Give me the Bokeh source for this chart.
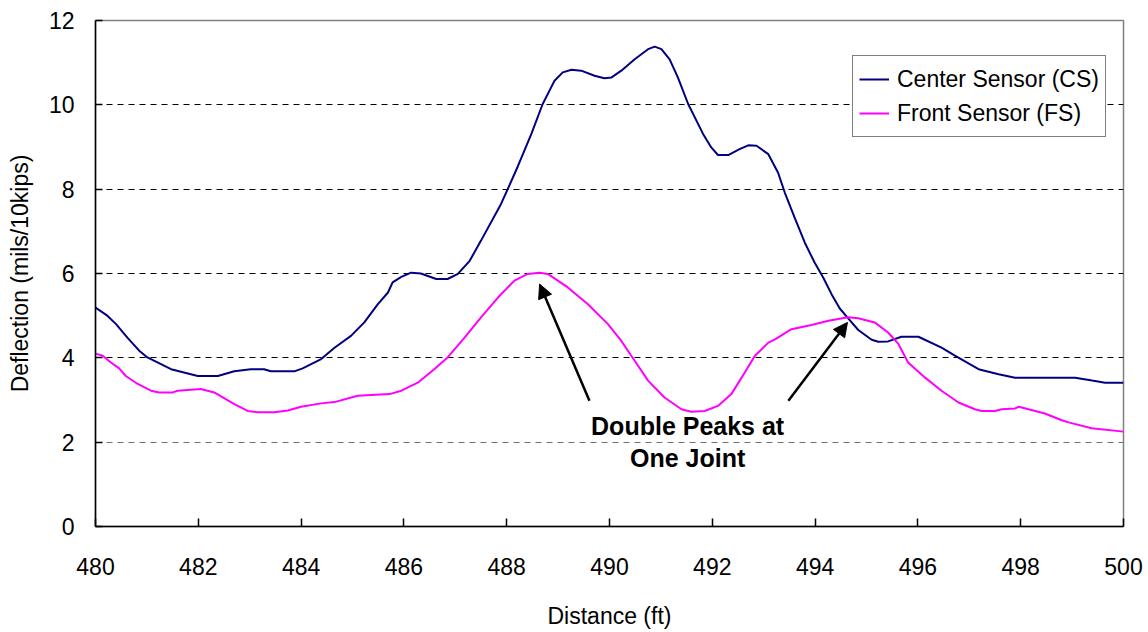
from bokeh.plotting import figure
from bokeh.models import (Range1d, FixedTicker, Legend, LegendItem, Arrow,
                          NormalHead, Label, Grid)
from bokeh.embed import file_html
from bokeh.resources import INLINE

# ---------------- data ----------------
cs_x = [480.00, 480.23, 480.40, 480.62, 480.85, 481.01, 481.47, 481.99, 482.38,
        482.70, 483.02, 483.28, 483.41, 483.87, 484.03, 484.39, 484.65, 484.97,
        485.23, 485.49, 485.69, 485.78, 485.95, 486.14, 486.33, 486.63, 486.85,
        487.05, 487.28, 487.50, 487.89, 488.02, 488.22, 488.48, 488.70, 488.83,
        488.93, 489.09, 489.26, 489.45, 489.71, 489.90, 490.04, 490.23, 490.49,
        490.75, 490.88, 491.01, 491.17, 491.33, 491.53, 491.82, 491.98, 492.11,
        492.31, 492.53, 492.70, 492.86, 493.09, 493.28, 493.41, 493.60, 493.80,
        493.99, 494.16, 494.32, 494.48, 494.64, 494.84, 495.10, 495.23, 495.42,
        495.68, 496.01, 496.46, 496.72, 497.18, 497.57, 497.89, 499.06, 499.39,
        499.64, 500.00]
cs_y = [5.19, 5.00, 4.80, 4.48, 4.17, 4.01, 3.73, 3.57, 3.57,
        3.68, 3.73, 3.73, 3.68, 3.68, 3.75, 3.97, 4.24, 4.52,
        4.84, 5.27, 5.55, 5.79, 5.92, 6.02, 6.00, 5.87, 5.87,
        5.99, 6.30, 6.78, 7.65, 8.00, 8.55, 9.31, 10.02, 10.33,
        10.57, 10.77, 10.83, 10.81, 10.69, 10.63, 10.65, 10.81, 11.08,
        11.32, 11.38, 11.32, 11.08, 10.65, 10.02, 9.31, 8.99, 8.81,
        8.81, 8.95, 9.04, 9.03, 8.83, 8.39, 7.92, 7.33, 6.73,
        6.26, 5.90, 5.51, 5.17, 4.94, 4.66, 4.43, 4.38, 4.39,
        4.50, 4.50, 4.24, 4.05, 3.73, 3.61, 3.53, 3.53, 3.46,
        3.41, 3.41]

fs_x = [480.00, 480.14, 480.30, 480.46, 480.59, 480.82, 481.08, 481.24, 481.50,
        481.60, 481.79, 482.05, 482.31, 482.70, 482.96, 483.15, 483.48, 483.74,
        484.00, 484.39, 484.65, 485.10, 485.36, 485.72, 485.95, 486.27, 486.59,
        486.85, 487.18, 487.50, 487.83, 488.15, 488.41, 488.64, 488.80, 489.19,
        489.58, 489.97, 490.23, 490.49, 490.75, 491.07, 491.40, 491.59, 491.85,
        492.11, 492.37, 492.57, 492.83, 493.09, 493.22, 493.54, 493.93, 494.26,
        494.64, 494.84, 495.16, 495.42, 495.62, 495.81, 496.14, 496.46, 496.79,
        497.11, 497.24, 497.50, 497.63, 497.89, 497.96, 498.15, 498.47, 498.80,
        498.93, 499.38, 500.00]
fs_y = [4.10, 4.05, 3.89, 3.75, 3.57, 3.38, 3.22, 3.18, 3.18,
        3.22, 3.24, 3.26, 3.18, 2.90, 2.74, 2.71, 2.71, 2.75,
        2.84, 2.92, 2.95, 3.10, 3.12, 3.14, 3.22, 3.41, 3.73,
        4.01, 4.48, 4.96, 5.43, 5.83, 5.99, 6.02, 5.99, 5.67,
        5.27, 4.80, 4.40, 3.93, 3.46, 3.06, 2.78, 2.72, 2.74,
        2.86, 3.14, 3.53, 4.05, 4.36, 4.44, 4.68, 4.78, 4.88,
        4.96, 4.94, 4.84, 4.60, 4.33, 3.89, 3.53, 3.22, 2.94,
        2.78, 2.74, 2.74, 2.78, 2.80, 2.84, 2.78, 2.68, 2.52,
        2.47, 2.33, 2.25]

x_ticks = [480, 482, 484, 486, 488, 490, 492, 494, 496, 498, 500]
y_ticks = [0, 2, 4, 6, 8, 10, 12]
grid_levels = [4, 6, 8, 10]
grid_levels_light = [2]

series_names = ["Center Sensor (CS)", "Front Sensor (FS)"]
annotation_lines = ["Double Peaks at", "One Joint"]
# annotation anchor points (data units)
ann_text_x = 491.52
ann_text_y = [2.38, 1.62]
arrow1 = (489.61, 2.98, 488.64, 5.75)
arrow2 = (493.48, 2.98, 494.63, 4.84)

FONT = "Liberation Sans"

p = figure(width=1148, height=632, output_backend="svg", toolbar_location=None,
           x_range=Range1d(480, 500), y_range=Range1d(0, 12),
           min_border_left=95, min_border_right=25, min_border_top=20,
           min_border_bottom=106)

p.outline_line_color = "#808080"
p.outline_line_width = 1.5
p.background_fill_color = "white"
p.border_fill_color = "white"

p.xgrid.visible = False
p.ygrid.ticker = FixedTicker(ticks=grid_levels)
p.ygrid.grid_line_color = "black"
p.ygrid.grid_line_dash = "6 5"
p.ygrid.grid_line_width = 1
p.add_layout(Grid(dimension=1, ticker=FixedTicker(ticks=grid_levels_light),
                  grid_line_color="#707070", grid_line_dash="6 5",
                  grid_line_width=1.2))

for ax in (p.xaxis[0], p.yaxis[0]):
    ax.axis_line_color = "black"
    ax.axis_line_width = 1.5
    ax.major_tick_line_color = "black"
    ax.major_tick_line_width = 1.5
    ax.minor_tick_line_color = None
    ax.major_tick_out = 0
    ax.major_tick_in = 8
    ax.major_label_text_font = FONT
    ax.major_label_text_font_size = "23px"
    ax.major_label_text_color = "black"
    ax.major_label_text_line_height = 1.0
    ax.axis_label_text_font = FONT
    ax.axis_label_text_font_size = "23px"
    ax.axis_label_text_font_style = "normal"
    ax.axis_label_text_color = "black"
    ax.axis_label_text_line_height = 1.0

p.yaxis.major_tick_in = 7
p.xaxis.ticker = FixedTicker(ticks=x_ticks)
p.yaxis.ticker = FixedTicker(ticks=y_ticks)
p.xaxis.axis_label = "Distance (ft)"
p.yaxis.axis_label = "Deflection (mils/10kips)"
p.xaxis.major_label_standoff = 31
p.xaxis.axis_label_standoff = 25
p.yaxis.major_label_standoff = 21
p.yaxis.axis_label_standoff = 13

r_cs = p.line(cs_x, cs_y, line_color="#000080", line_width=2)
r_fs = p.line(fs_x, fs_y, line_color="#FF00FF", line_width=2)

legend = Legend(items=[LegendItem(label=series_names[0], renderers=[r_cs]),
                       LegendItem(label=series_names[1], renderers=[r_fs])],
                location=(757, 389))
legend.label_text_font = FONT
legend.label_text_font_size = "23px"
legend.label_text_color = "black"
legend.border_line_color = "black"
legend.border_line_width = 1.5
legend.background_fill_color = "white"
legend.background_fill_alpha = 1
legend.padding = 6
legend.spacing = 0
legend.margin = 0
legend.label_height = 34
legend.glyph_height = 34
legend.glyph_width = 30
legend.label_standoff = 8
p.add_layout(legend)

for (x0, y0, x1, y1) in (arrow1, arrow2):
    p.add_layout(Arrow(x_start=x0, y_start=y0, x_end=x1, y_end=y1,
                       line_color="black", line_width=2.5,
                       end=NormalHead(size=14, fill_color="black",
                                      line_color="black", line_width=1)))

for txt, ty in zip(annotation_lines, ann_text_y):
    p.add_layout(Label(x=ann_text_x, y=ty, text=txt, text_align="center",
                       text_baseline="alphabetic", text_font=FONT,
                       text_font_size="25px", text_font_style="bold",
                       text_color="black"))

open("out.html", "w").write(file_html(p, INLINE))
